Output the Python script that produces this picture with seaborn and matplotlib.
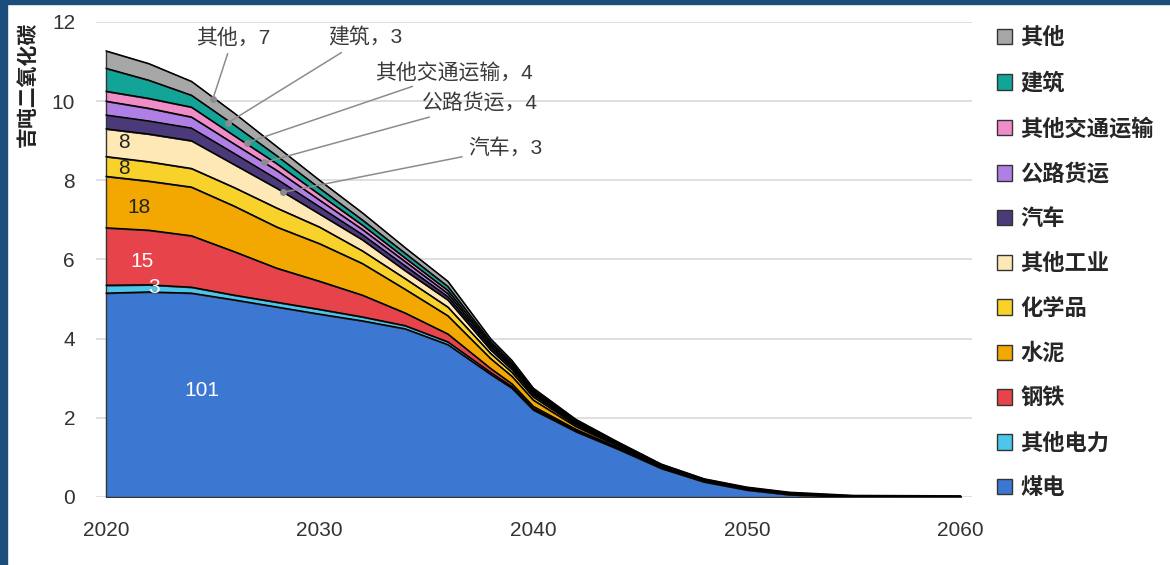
import matplotlib
matplotlib.use('Agg')
import matplotlib.pyplot as plt
import seaborn as sns
import numpy as np
from matplotlib.patches import Rectangle

years = [2020, 2022, 2024, 2026, 2028, 2030, 2032, 2034, 2036, 2038, 2039,
         2040, 2042, 2044, 2046, 2048, 2050, 2052, 2055, 2060]

# layer thickness per sector (Gt CO2), bottom to top
coal_power   = [5.15, 5.18, 5.15, 4.98, 4.80, 4.62, 4.45, 4.25, 3.85, 3.10, 2.75, 2.20, 1.65, 1.20, 0.72, 0.38, 0.18, 0.06, 0.00, 0.00]
other_power  = [0.20, 0.18, 0.15, 0.12, 0.12, 0.12, 0.10, 0.08, 0.07, 0.05, 0.04, 0.04, 0.03, 0.02, 0.01, 0.01, 0.00, 0.00, 0.00, 0.00]
steel        = [1.45, 1.38, 1.30, 1.10, 0.86, 0.71, 0.55, 0.32, 0.20, 0.10, 0.07, 0.05, 0.03, 0.02, 0.01, 0.00, 0.01, 0.01, 0.00, 0.00]
cement       = [1.30, 1.24, 1.23, 1.15, 1.04, 0.95, 0.80, 0.60, 0.46, 0.25, 0.19, 0.16, 0.07, 0.04, 0.02, 0.01, 0.00, 0.00, 0.00, 0.00]
chemicals    = [0.50, 0.49, 0.47, 0.47, 0.48, 0.42, 0.32, 0.27, 0.22, 0.13, 0.10, 0.08, 0.04, 0.02, 0.01, 0.01, 0.01, 0.00, 0.00, 0.00]
other_ind    = [0.70, 0.70, 0.70, 0.58, 0.50, 0.33, 0.28, 0.20, 0.18, 0.09, 0.07, 0.05, 0.03, 0.02, 0.01, 0.01, 0.00, 0.01, 0.01, 0.00]
cars         = [0.35, 0.33, 0.32, 0.28, 0.23, 0.18, 0.13, 0.12, 0.08, 0.06, 0.05, 0.04, 0.02, 0.01, 0.01, 0.00, 0.01, 0.00, 0.00, 0.00]
road_freight = [0.35, 0.32, 0.28, 0.24, 0.22, 0.17, 0.13, 0.11, 0.08, 0.05, 0.04, 0.03, 0.02, 0.01, 0.01, 0.01, 0.00, 0.00, 0.00, 0.00]
other_trans  = [0.25, 0.25, 0.25, 0.21, 0.17, 0.14, 0.11, 0.09, 0.08, 0.05, 0.04, 0.03, 0.02, 0.01, 0.00, 0.00, 0.01, 0.01, 0.00, 0.00]
buildings    = [0.58, 0.46, 0.30, 0.27, 0.20, 0.16, 0.13, 0.12, 0.10, 0.05, 0.04, 0.03, 0.02, 0.01, 0.01, 0.01, 0.00, 0.00, 0.00, 0.00]
other        = [0.44, 0.42, 0.35, 0.30, 0.23, 0.20, 0.18, 0.14, 0.13, 0.07, 0.06, 0.04, 0.03, 0.02, 0.02, 0.02, 0.03, 0.03, 0.03, 0.03]

sectors = ['煤电', '其他电力', '钢铁', '水泥', '化学品', '其他工业',
           '汽车', '公路货运', '其他交通运输', '建筑', '其他']
layers = [coal_power, other_power, steel, cement, chemicals, other_ind,
          cars, road_freight, other_trans, buildings, other]
colors = ['#3c78d2', '#4cc6ea', '#e6434b', '#f2a800', '#f8d12a', '#fde8b6',
          '#4b3a7a', '#b07fe6', '#f08dc8', '#12a496', '#a7a7a7']

# cumulative totals written on the bands
band_labels = ['101', '3', '15', '18', '8', '8']
band_x = [2024.5, 2022.25, 2021.7, 2021.55, 2020.85, 2020.85]
band_y = [2.70, 5.28, 5.96, 7.32, 8.31, 8.96]
band_color = ['white', 'white', 'white', '#222222', '#222222', '#222222']

callouts = ['其他，7', '建筑，3', '其他交通运输，4', '公路货运，4', '汽车，3']
callout_xy = [(2025.0, 10.05), (2025.7, 9.45), (2026.6, 8.95), (2027.4, 8.45), (2028.3, 7.7)]
callout_text = [(2024.2, 11.6), (2030.4, 11.6), (2032.6, 10.73), (2034.8, 9.95), (2036.95, 8.81)]

sns.set_style('white')
plt.rcParams['font.family'] = ['Liberation Sans', 'Noto Sans CJK SC']

fig = plt.figure(figsize=(11.7, 5.65), dpi=100)
ax = fig.add_axes([0.082, 0.1204, 0.749, 0.8407])

ax.stackplot(years, *layers, labels=sectors, colors=colors,
             linewidth=0, edgecolor='none')
tops = np.cumsum(np.array(layers), axis=0)
for top in tops:
    ax.plot(years, top, color='black', lw=1.0, zorder=3)

ax.set_xlim(2019.53, 2060.55)
ax.set_ylim(0, 12)
ax.set_xticks([2020, 2030, 2040, 2050, 2060])
ax.set_yticks([0, 2, 4, 6, 8, 10, 12])
ax.yaxis.grid(True, color='#d9d9d9', lw=1.2)
ax.xaxis.grid(False)
ax.set_axisbelow(True)
for s in ax.spines.values():
    s.set_visible(False)
ax.tick_params(axis='both', length=0, labelsize=15, colors='#333333')
ax.tick_params(axis='y', pad=15)
ax.tick_params(axis='x', pad=17)

for t, x, y, c in zip(band_labels, band_x, band_y, band_color):
    ax.text(x, y, t, ha='center', va='center', fontsize=15, color=c, zorder=6)

for t, xy, xyt in zip(callouts, callout_xy, callout_text):
    ax.annotate(t, xy=xy, xytext=xyt, ha='left', va='center', fontsize=15,
                color='#3a3a3a', zorder=6,
                arrowprops=dict(arrowstyle='-', color='#8c8c8c', lw=1.1,
                                shrinkA=2, shrinkB=0))
    ax.plot(*xy, 'o', ms=4, color='#8c8c8c', zorder=5)

fig.text(0.024, 0.85, '吉吨二氧化碳', rotation=90, ha='center', va='center',
         fontsize=15, fontweight='bold', color='#222222')

handles, labels = ax.get_legend_handles_labels()
for h in handles:
    h.set_edgecolor('#333333')
    h.set_linewidth(1.0)
fig.legend(handles[::-1], labels[::-1], loc='upper left',
           bbox_to_anchor=(0.852, 0.95), frameon=False,
           handlelength=0.7, handleheight=0.7, handletextpad=0.35,
           labelspacing=1.065, borderpad=0, borderaxespad=0,
           prop={'weight': 'bold', 'size': 16})

fig.add_artist(Rectangle((0, 1 - 4 / 565), 1, 4 / 565, transform=fig.transFigure,
                         color='#1b4e7b', zorder=10))
fig.add_artist(Rectangle((0, 0), 7 / 1170, 1, transform=fig.transFigure,
                         color='#1b4e7b', zorder=10))

fig.savefig('out.png', dpi=100)
